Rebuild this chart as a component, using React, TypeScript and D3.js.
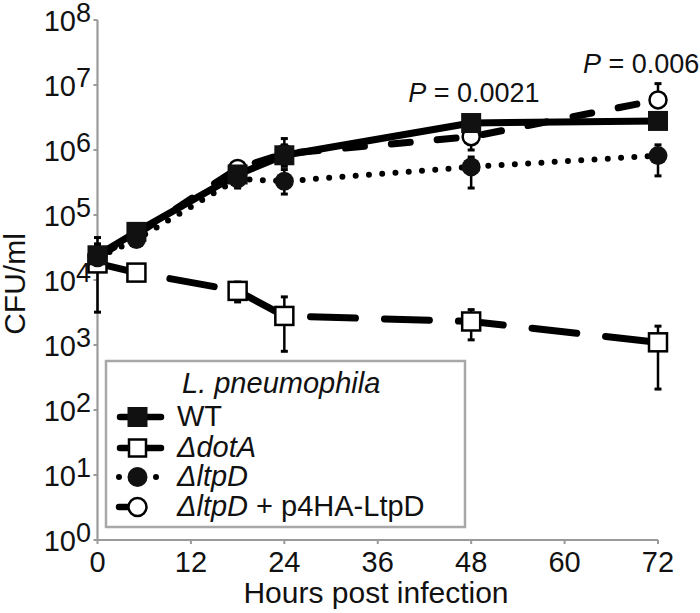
import React, { useEffect, useRef } from "react";
import * as d3 from "d3";

// sampling times (h)
const hours = [0, 5, 18, 24, 48, 72];

// CFU/ml, with error bar ends
const wtCfu = [2.4e4, 5.5e4, 4.2e5, 8.3e5, 2.6e6, 2.8e6];
const wtLow = [1.6e4, 4.6e4, 3.2e5, 5.6e5, 2.0e6, 2.2e6];
const wtHigh = [3.6e4, 6.6e4, 5.3e5, 1.5e6, 3.3e6, 3.4e6];

const dotACfu = [1.8e4, 1.3e4, 6.8e3, 2.8e3, 2.3e3, 1.1e3];
const dotALow = [3.2e3, 1.1e4, 4.6e3, 8.0e2, 1.2e3, 2.1e2];
const dotAHigh = [4.5e4, 1.5e4, 9.3e3, 5.5e3, 3.5e3, 1.95e3];

const ltpDCfu = [2.2e4, 4.2e4, 3.6e5, 3.3e5, 5.5e5, 8.2e5];
const ltpDLow = [1.4e4, 3.4e4, 2.6e5, 2.1e5, 2.6e5, 4.0e5];
const ltpDHigh = [3.2e4, 5.2e4, 4.6e5, 5.0e5, 7.8e5, 1.2e6];

const compCfu = [2.3e4, 5.0e4, 5.2e5, 8.8e5, 1.6e6, 5.9e6];
const compLow = [1.5e4, 4.2e4, 4.4e5, 6.5e5, 1.0e6, 4.6e6];
const compHigh = [3.4e4, 6.0e4, 6.2e5, 1.2e6, 2.2e6, 1.05e7];

const xTicks = [0, 12, 24, 36, 48, 60, 72];
const yExponents = [0, 1, 2, 3, 4, 5, 6, 7, 8];

const pLabels = [
    { hour: 48, text: "0.0021", dx: -63, y: 102 },
    { hour: 72, text: "0.006", dx: -75, y: 73 },
];

const FONT = "'Liberation Sans', Arial, Helvetica, sans-serif";
const AXIS_GREY = "#9a9a9a";

type Marker = "square" | "openSquare" | "circle" | "openCircle";

interface Series {
    values: number[];
    low: number[];
    high: number[];
    marker: Marker;
    dash: string | null;
    width: number;
}

const App: React.FC = () => {
    const ref = useRef<SVGSVGElement>(null);

    useEffect(() => {
        if (!ref.current) return;
        const svg = d3.select(ref.current);
        svg.selectAll("*").remove();

        const x = d3.scaleLinear().domain([0, 72]).range([97.5, 658]);
        const y = d3.scaleLog().domain([1, 1e8]).range([540, 20]);

        // order = drawing order (bottom first)
        const series: Series[] = [
            { values: dotACfu, low: dotALow, high: dotAHigh, marker: "openSquare", dash: "45 29", width: 7 },
            { values: compCfu, low: compLow, high: compHigh, marker: "openCircle", dash: "19 27", width: 7 },
            { values: ltpDCfu, low: ltpDLow, high: ltpDHigh, marker: "circle", dash: "0 13.3", width: 6 },
            { values: wtCfu, low: wtLow, high: wtHigh, marker: "square", dash: null, width: 7 },
        ];

        // axes
        const axes = svg.append("g");
        axes.append("line")
            .attr("x1", x(0)).attr("x2", x(0))
            .attr("y1", y(1e8)).attr("y2", y(1))
            .attr("stroke", AXIS_GREY).attr("stroke-width", 2.2);
        axes.append("line")
            .attr("x1", x(0)).attr("x2", x(72))
            .attr("y1", y(1)).attr("y2", y(1))
            .attr("stroke", AXIS_GREY).attr("stroke-width", 2.2);

        yExponents.forEach((e) => {
            const yy = y(Math.pow(10, e));
            axes.append("line")
                .attr("x1", x(0) - 4).attr("x2", x(0))
                .attr("y1", yy).attr("y2", yy)
                .attr("stroke", AXIS_GREY).attr("stroke-width", 2);
            const t = axes.append("text")
                .attr("x", 91).attr("y", yy + 11)
                .attr("text-anchor", "end")
                .attr("font-family", FONT)
                .attr("font-size", 29)
                .attr("fill", "#111");
            t.append("tspan").text("10");
            t.append("tspan").attr("dy", -9).attr("font-size", 27).text(String(e));
        });

        xTicks.forEach((h) => {
            axes.append("line")
                .attr("x1", x(h)).attr("x2", x(h))
                .attr("y1", y(1)).attr("y2", y(1) + 4)
                .attr("stroke", AXIS_GREY).attr("stroke-width", 2);
            axes.append("text")
                .attr("x", x(h)).attr("y", 572)
                .attr("text-anchor", "middle")
                .attr("font-family", FONT)
                .attr("font-size", 29)
                .attr("fill", "#111")
                .text(String(h));
        });

        axes.append("text")
            .attr("x", 376).attr("y", 603)
            .attr("text-anchor", "middle")
            .attr("font-family", FONT)
            .attr("font-size", 30)
            .attr("fill", "#111")
            .text("Hours post infection");

        axes.append("text")
            .attr("transform", "translate(25,284) rotate(-90)")
            .attr("text-anchor", "middle")
            .attr("font-family", FONT)
            .attr("font-size", 30)
            .attr("fill", "#111")
            .text("CFU/ml");

        const line = d3.line<number>()
            .x((_, i) => x(hours[i]))
            .y((d) => y(d));

        // lines
        series.forEach((s) => {
            svg.append("path")
                .datum(s.values)
                .attr("d", line)
                .attr("fill", "none")
                .attr("stroke", "#000")
                .attr("stroke-width", s.width)
                .attr("stroke-linecap", "round")
                .attr("stroke-linejoin", "round")
                .attr("stroke-dasharray", s.dash ?? null);
        });

        // error bars
        series.forEach((s) => {
            const g = svg.append("g").attr("stroke", "#000");
            hours.forEach((h, i) => {
                const cx = x(h);
                g.append("line")
                    .attr("x1", cx).attr("x2", cx)
                    .attr("y1", y(s.high[i])).attr("y2", y(s.low[i]))
                    .attr("stroke-width", 2.5);
                [s.high[i], s.low[i]].forEach((v) => {
                    g.append("line")
                        .attr("x1", cx - 3.5).attr("x2", cx + 3.5)
                        .attr("y1", y(v)).attr("y2", y(v))
                        .attr("stroke-width", 3);
                });
            });
        });

        const drawMarker = (g: any, m: Marker, cx: number, cy: number, legend = false) => {
            if (m === "square") {
                const s = 20;
                g.append("rect").attr("x", cx - s / 2).attr("y", cy - s / 2)
                    .attr("width", s).attr("height", s).attr("fill", "#111");
            } else if (m === "openSquare") {
                const s = legend ? 17 : 18;
                g.append("rect").attr("x", cx - s / 2).attr("y", cy - s / 2)
                    .attr("width", s).attr("height", s)
                    .attr("fill", "#fff").attr("stroke", "#000").attr("stroke-width", 2.5);
            } else if (m === "circle") {
                g.append("circle").attr("cx", cx).attr("cy", cy).attr("r", legend ? 10 : 9.5)
                    .attr("fill", "#111");
            } else {
                g.append("circle").attr("cx", cx).attr("cy", cy).attr("r", legend ? 9 : 8.5)
                    .attr("fill", "#fff").attr("stroke", "#000").attr("stroke-width", 2.5);
            }
        };

        // markers
        series.forEach((s) => {
            const g = svg.append("g");
            s.values.forEach((v, i) => drawMarker(g, s.marker, x(hours[i]), y(v)));
        });

        // P values
        pLabels.forEach((p) => {
            const t = svg.append("text")
                .attr("x", x(p.hour) + p.dx).attr("y", p.y)
                .attr("font-family", FONT)
                .attr("font-size", 27)
                .attr("fill", "#111");
            t.append("tspan").attr("font-style", "italic").text("P");
            t.append("tspan").text(" = " + p.text);
        });

        // legend
        const lg = svg.append("g");
        lg.append("rect")
            .attr("x", 106).attr("y", 361).attr("width", 359).attr("height", 166)
            .attr("fill", "#fff").attr("stroke", "#a8a8a8").attr("stroke-width", 2.5);
        lg.append("text")
            .attr("x", 182).attr("y", 393)
            .attr("font-family", FONT).attr("font-size", 29)
            .attr("font-style", "italic").attr("fill", "#111")
            .text("L. pneumophila");

        const rows = [
            { cy: 417, marker: "square" as Marker, kind: "both", parts: [["WT", false]] },
            { cy: 448, marker: "openSquare" as Marker, kind: "both", parts: [["\u0394dotA", true]] },
            { cy: 477, marker: "circle" as Marker, kind: "dots", parts: [["\u0394ltpD", true]] },
            { cy: 507, marker: "openCircle" as Marker, kind: "left", parts: [["\u0394ltpD", true], [" + p4HA-LtpD", false]] },
        ];
        rows.forEach((r) => {
            if (r.kind === "both") {
                lg.append("line").attr("x1", 120).attr("x2", 161)
                    .attr("y1", r.cy).attr("y2", r.cy)
                    .attr("stroke", "#000").attr("stroke-width", 6.5).attr("stroke-linecap", "round");
            } else if (r.kind === "left") {
                lg.append("line").attr("x1", 119).attr("x2", 137)
                    .attr("y1", r.cy).attr("y2", r.cy)
                    .attr("stroke", "#000").attr("stroke-width", 6.5).attr("stroke-linecap", "round");
            } else {
                [119, 156].forEach((dx) =>
                    lg.append("circle").attr("cx", dx).attr("cy", r.cy).attr("r", 3).attr("fill", "#000"));
            }
            drawMarker(lg, r.marker, 137.5, r.cy, true);
            const t = lg.append("text")
                .attr("x", 177).attr("y", r.cy + 9)
                .attr("font-family", FONT).attr("font-size", 29).attr("fill", "#111");
            r.parts.forEach(([s, it]) => {
                t.append("tspan").attr("font-style", it ? "italic" : "normal").text(s as string);
            });
        });

        return () => {
            svg.selectAll("*").remove();
        };
    }, []);

    return (
        <svg
            ref={ref}
            width={700}
            height={613}
            style={{ position: "absolute", left: 0, top: 0, background: "#fff" }}
        />
    );
};

export default App;
